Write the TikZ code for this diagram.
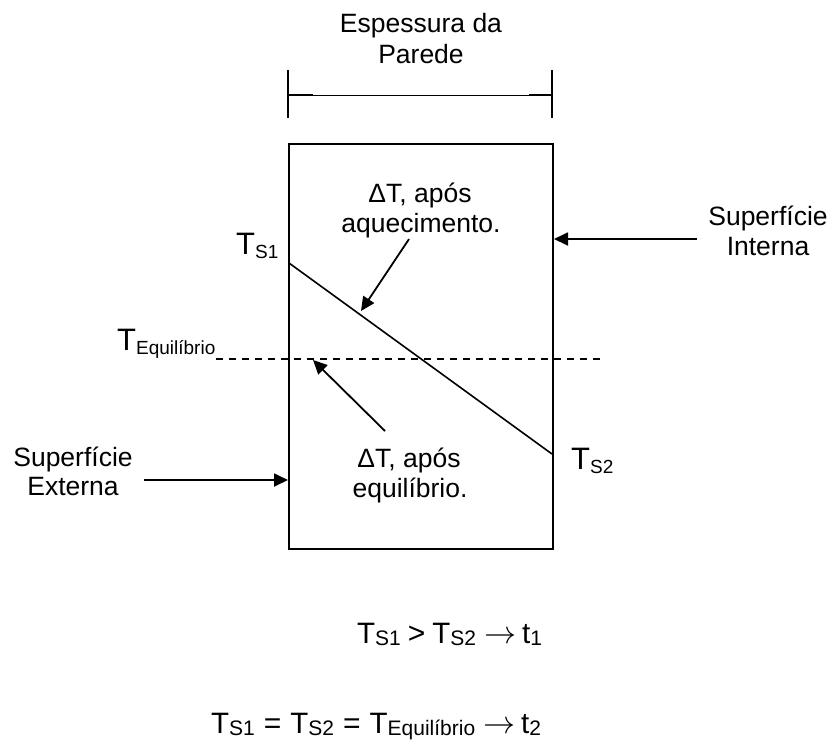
\documentclass[tikz,border=0pt]{standalone}
\usepackage{fontspec}
\usepackage{graphicx}
\setmainfont{Liberation Sans}
\usetikzlibrary{arrows.meta}
\newcommand{\txtsize}{\fontsize{26.5}{30}\selectfont}
\newcommand{\TbigSub}[1]{{\fontsize{31}{31}\selectfont T}\raisebox{-4pt}{\fontsize{19}{19}\selectfont #1}}
\newcommand{\TfSub}[1]{{\fontsize{29.5}{29.5}\selectfont T}\raisebox{-2.5pt}{\fontsize{21}{21}\selectfont #1}}
\newcommand{\fsub}[1]{\raisebox{-2.5pt}{\fontsize{21}{21}\selectfont #1}}
\newcommand{\fop}[1]{{\fontsize{30}{30}\selectfont #1}}
\newcommand{\farrow}{\resizebox{32pt}{!}{$\rightarrow$}}
\newcommand{\ft}{{\fontsize{29.5}{29.5}\selectfont t}}
\begin{document}
\begin{tikzpicture}[x=1pt,y=-1pt,
  lbl/.style={inner sep=0pt, font=\txtsize},
  ptr/.style={line width=1.8pt, -{Triangle[length=14pt,width=13pt]}},
  wall/.style={line width=2pt},
  grad/.style={line width=1.6pt},
  eqline/.style={line width=1.5pt, dash pattern=on 7pt off 6pt}]
\useasboundingbox (0,0) rectangle (832,745);
% wall
\node[wall, draw, inner sep=0pt, minimum width=264pt, minimum height=405pt, anchor=north west] (wallbox) at (288,143) {};
% thickness dimension
\coordinate (tl1) at (288,70); \coordinate (tl2) at (288,118);
\coordinate (tr1) at (552,70); \coordinate (tr2) at (552,118);
\draw[line width=2pt] (tl1) -- (tl2);
\draw[line width=2pt] (tr1) -- (tr2);
\coordinate (dl) at (288,95); \coordinate (dlm) at (313,95);
\coordinate (dr) at (552,95); \coordinate (drm) at (529,95);
\draw[line width=2pt] (dl) -- (dlm);
\draw[line width=2pt] (drm) -- (dr);
\draw[line width=1pt] (dlm) -- (drm);
\node[lbl, anchor=base] (esp1) at (421,32) {Espessura da};
\node[lbl, anchor=base] (esp2) at (421,63) {Parede};
% gradient line
\coordinate (g1) at (289,263);
\coordinate (g2) at (552,454);
\draw[grad] (g1) -- (g2);
% equilibrium line
\coordinate (e1) at (216,359);
\coordinate (e2) at (602,359);
\draw[eqline] (e1) -- (e2);
% labels T
\node[inner sep=0pt, anchor=base west] (ts1) at (236,254) {\TbigSub{S1}};
\node[inner sep=0pt, anchor=base west] (ts2) at (571,469) {\TbigSub{S2}};
\node[inner sep=0pt, anchor=base west] (teq) at (117,350) {\TbigSub{Equilíbrio}};
% delta T labels
\node[lbl, anchor=base] (dt1a) at (420,202) {ΔT, após};
\node[lbl, anchor=base] (dt1b) at (421,232) {aquecimento.};
\node[lbl, anchor=base] (dt2a) at (409,467) {ΔT, após};
\node[lbl, anchor=base] (dt2b) at (410,497) {equilíbrio.};
\coordinate (a1t) at (409,239); \coordinate (a1h) at (361,311);
\draw[ptr] (a1t) -- (a1h);
\coordinate (a2t) at (385,431); \coordinate (a2h) at (313,360);
\draw[ptr] (a2t) -- (a2h);
% surfaces
\node[lbl, anchor=base] (sint1) at (768,225) {Superfície};
\node[lbl, anchor=base] (sint2) at (768,255) {Interna};
\node[lbl, anchor=base] (sext1) at (73,466) {Superfície};
\node[lbl, anchor=base] (sext2) at (73,495) {Externa};
\coordinate (ai) at (697,239);
\draw[ptr] (ai) -- (wallbox.east |- ai);
\coordinate (ae) at (144,480);
\draw[ptr] (ae) -- (wallbox.west |- ae);
% formulas
\node[inner sep=0pt, anchor=base west] (f1) at (357,643) {\TfSub{S1}\hspace{7pt}\fop{>}\hspace{7pt}\TfSub{S2}\hspace{8pt}\farrow\hspace{6pt}\ft\fsub{1}};
\node[inner sep=0pt, anchor=base west] (f2) at (211,733) {\TfSub{S1}\hspace{9pt}\fop{=}\hspace{9pt}\TfSub{S2}\hspace{9pt}\fop{=}\hspace{9pt}\TfSub{Equilíbrio}\hspace{8pt}\farrow\hspace{6pt}\ft\fsub{2}};
\end{tikzpicture}
\end{document}
